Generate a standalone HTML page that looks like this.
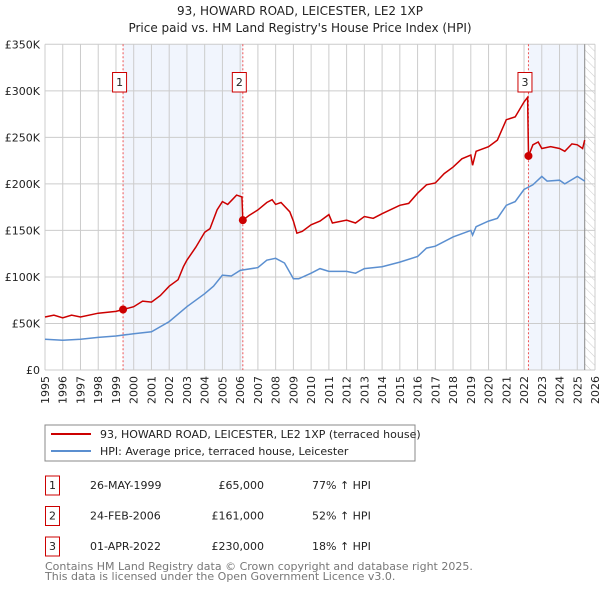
<!DOCTYPE html>
<html><head><meta charset="utf-8"><style>
body{margin:0;background:#fff;width:600px;height:590px;overflow:hidden;font-family:"DejaVu Sans","Liberation Sans",sans-serif}
svg text{font-family:"DejaVu Sans","Liberation Sans",sans-serif}
</style></head><body>
<svg id="c" width="600" height="590" xmlns="http://www.w3.org/2000/svg">
<defs><pattern id="hatch" width="6" height="6" patternUnits="userSpaceOnUse" patternTransform="rotate(-45)"><line x1="0" y1="0" x2="0" y2="6" stroke="#ccc" stroke-width="1"/></pattern></defs>
<text x="300" y="15" text-anchor="middle" font-size="12" fill="#222">93, HOWARD ROAD, LEICESTER, LE2 1XP</text>
<text x="300" y="32" text-anchor="middle" font-size="12" fill="#222">Price paid vs. HM Land Registry's House Price Index (HPI)</text>
<g id="plot"></g>
<g>
<rect x="45" y="425" width="370" height="36" fill="#fff" stroke="#888"/>
<line x1="51" y1="434" x2="91" y2="434" stroke="#cc0000" stroke-width="2"/>
<text x="100" y="438" font-size="11" fill="#222">93, HOWARD ROAD, LEICESTER, LE2 1XP (terraced house)</text>
<line x1="51" y1="451" x2="91" y2="451" stroke="#5b8fd0" stroke-width="2"/>
<text x="100" y="455" font-size="11" fill="#222">HPI: Average price, terraced house, Leicester</text>
</g>
<g id="tbl" font-size="11" fill="#222"></g>
<text x="45" y="570" font-size="11" fill="#777">Contains HM Land Registry data © Crown copyright and database right 2025.</text>
<text x="45" y="580" font-size="11" fill="#777">This data is licensed under the Open Government Licence v3.0.</text>
</svg>
<script>
const hpiYears=[1995,1996,1997,1998,1999,2000,2001,2002,2003,2004,2004.5,2005,2005.5,2006,2007,2007.5,2008,2008.5,2009,2009.3,2010,2010.5,2011,2012,2012.5,2013,2014,2015,2016,2016.5,2017,2018,2019,2019.1,2019.3,2020,2020.5,2021,2021.5,2022,2022.5,2023,2023.3,2024,2024.3,2025,2025.42];
const hpiValues=[33,32,33,35,36.5,39,41,52,68,82,90,102,101,107,110,118,120,115,98,98,104,109,106,106,104,109,111,116,122,131,133,143,150,145,154,160,163,177,181,194,199,208,203,204,200,208,203];
const priceYears=[1995,1995.5,1996,1996.5,1997,1998,1999,1999.4,2000,2000.5,2001,2001.5,2002,2002.5,2002.8,2003,2003.5,2004,2004.3,2004.7,2005,2005.3,2005.6,2005.8,2006.1,2006.15,2006.5,2007,2007.5,2007.8,2008,2008.3,2008.8,2009,2009.2,2009.5,2010,2010.5,2011,2011.2,2012,2012.5,2013,2013.5,2014,2015,2015.5,2016,2016.5,2017,2017.5,2018,2018.5,2019,2019.1,2019.3,2020,2020.5,2021,2021.5,2022,2022.2,2022.25,2022.5,2022.8,2023,2023.5,2024,2024.3,2024.7,2025,2025.3,2025.42];
const priceValues=[57,59,56,59,57,61,63,65,68,74,73,80,90,97,111,118,132,148,152,172,181,178,184,188,186,161,166,172,180,183,178,180,170,160,147,149,156,160,167,158,161,158,165,163,168,177,179,190,199,201,211,218,227,231,220,235,240,247,269,272,288,293,230,242,245,238,240,238,235,243,242,238,247];
const saleYears=[1999.4,2006.15,2022.25];
const saleValues=[65,161,230];
const saleLabels=["1","2","3"];
const saleDates=["26-MAY-1999","24-FEB-2006","01-APR-2022"];
const salePrices=["£65,000","£161,000","£230,000"];
const saleDiffs=["77% ↑ HPI","52% ↑ HPI","18% ↑ HPI"];
const yTicks=[0,50,100,150,200,250,300,350];
const yTickLabels=["£0","£50K","£100K","£150K","£200K","£250K","£300K","£350K"];
const xTicks=[1995,1996,1997,1998,1999,2000,2001,2002,2003,2004,2005,2006,2007,2008,2009,2010,2011,2012,2013,2014,2015,2016,2017,2018,2019,2020,2021,2022,2023,2024,2025,2026];

const X0=45,X1=595,Y0=370,Y1=44.3;
const xs=y=>X0+(y-1995)/(2026-1995)*(X1-X0);
const ys=v=>Y0-v/350*(Y0-Y1);
const NS="http://www.w3.org/2000/svg";
const g=document.getElementById('plot');
function mk(t,a,p){const e=document.createElementNS(NS,t);for(const k in a)e.setAttribute(k,a[k]);(p||g).appendChild(e);return e;}

let e;
e=mk('rect',{x:xs(saleYears[0]),y:Y1,width:xs(saleYears[1])-xs(saleYears[0]),height:Y0-Y1,fill:'#eef3fc',opacity:0.8});


const dataEnd=2025.42;
e=mk('rect',{x:xs(saleYears[2]),y:Y1,width:xs(dataEnd)-xs(saleYears[2]),height:Y0-Y1,fill:'#eef3fc',opacity:0.8});


e=mk('rect',{x:xs(dataEnd),y:Y1,width:X1-xs(dataEnd),height:Y0-Y1,fill:'url(#hatch)'});



xTicks.forEach(t=>{
 e=mk('line',{x1:xs(t),x2:xs(t),y1:Y1,y2:Y0,stroke:'#ccc','stroke-width':1});
 
 
 e=mk('text',{x:0,y:0,transform:`translate(${xs(t)+4},376) rotate(-90)`,'text-anchor':'end','font-size':11,fill:'#222'});
 e.textContent=t;
 
 
});
yTicks.forEach((t,i)=>{
 e=mk('line',{x1:X0,x2:X1,y1:ys(t),y2:ys(t),stroke:'#ccc','stroke-width':1});
 
 
 e=mk('text',{x:40,y:ys(t)+4,'text-anchor':'end','font-size':11,fill:'#222'});
 e.textContent=yTickLabels[i];
 
 
});
e=mk('line',{x1:xs(dataEnd),x2:xs(dataEnd),y1:Y1,y2:Y0,stroke:'#888','stroke-width':1});



saleYears.forEach((s,i)=>{
 e=mk('line',{x1:xs(s),x2:xs(s),y1:Y1,y2:Y0,stroke:'#e55','stroke-width':1,'stroke-dasharray':'2,2'});
 
 
});

const path=(xa,va)=>xa.map((y,i)=>(i?'L':'M')+xs(y).toFixed(1)+','+ys(va[i]).toFixed(1)).join('');
e=mk('path',{d:path(hpiYears,hpiValues),fill:'none',stroke:'#5b8fd0','stroke-width':1.5});


e=mk('path',{d:path(priceYears,priceValues),fill:'none',stroke:'#cc0000','stroke-width':1.5});



saleYears.forEach((s,i)=>{
 e=mk('circle',{cx:xs(s),cy:ys(saleValues[i]),r:4,fill:'#cc0000'});
 
 
 e=mk('rect',{x:xs(s)-10.5,y:72.5,width:14,height:19.5,fill:'#fff',stroke:'#cc0000'});
 
 
 e=mk('text',{x:xs(s)-3.5,y:86,'text-anchor':'middle','font-size':11,fill:'#222'});
 e.textContent=saleLabels[i];
 
 
});

const tb=document.getElementById('tbl');
saleLabels.forEach((l,i)=>{
 const y=489+i*30.5;
 e=mk('rect',{x:45.5,y:y-13,width:14,height:19,fill:'#fff',stroke:'#cc0000'},tb);
 
 
 e=mk('text',{x:52.5,y:y,'text-anchor':'middle'},tb);e.textContent=l;
 
 
 e=mk('text',{x:90,y:y},tb);e.textContent=saleDates[i];
 
 
 e=mk('text',{x:264,y:y,'text-anchor':'end'},tb);e.textContent=salePrices[i];
 
 
 e=mk('text',{x:312,y:y},tb);e.textContent=saleDiffs[i];
 
 
});
</script>
</body></html>
